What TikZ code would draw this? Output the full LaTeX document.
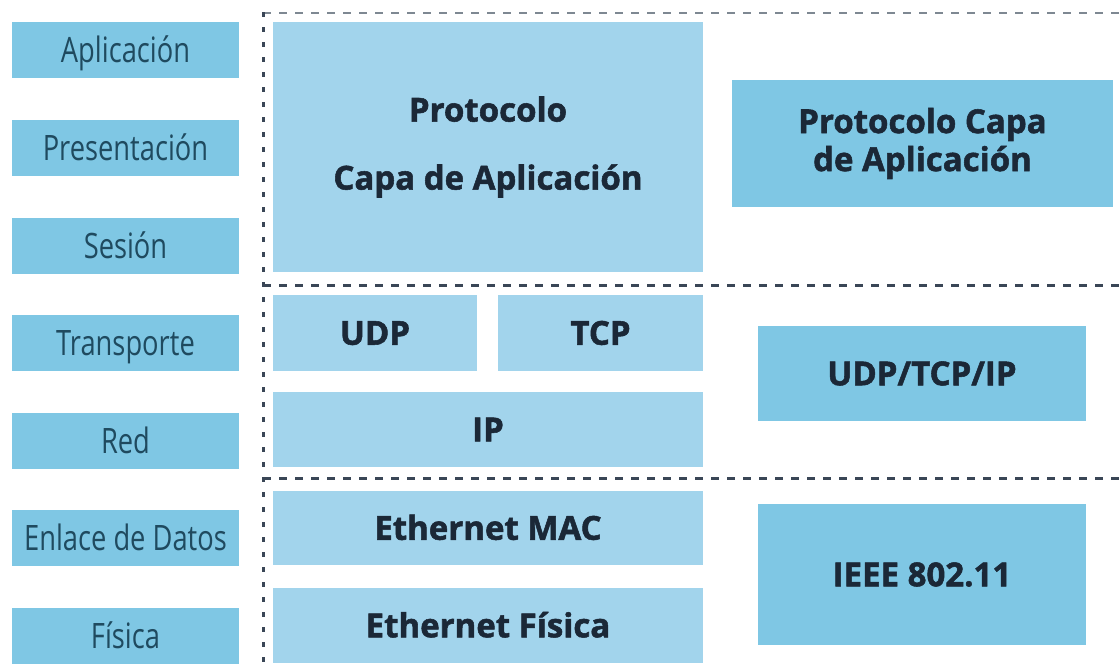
\documentclass[tikz,border=0pt]{standalone}
\usepackage{fontspec}
\setmainfont{Open Sans}[BoldFeatures={FakeBold=1.6}]
\newfontfamily\condfont[FakeStretch=0.78]{Open Sans}
\definecolor{layerblue}{HTML}{7FC7E4}
\definecolor{protoblue}{HTML}{A2D4EC}
\definecolor{labeltext}{HTML}{1F4A5F}
\definecolor{boldtext}{HTML}{1B2837}
\definecolor{dashgray}{HTML}{3A4656}
\definecolor{dashlight}{HTML}{7E8892}
\begin{document}
\begin{tikzpicture}[x=1pt,y=-1pt,
  osi/.style={fill=layerblue, minimum width=227pt, minimum height=56pt, inner sep=0pt,
    text=labeltext, font=\condfont\fontsize{35}{40}\selectfont, text height=25pt, text depth=0pt},
  proto/.style={fill=protoblue, inner sep=0pt, text=boldtext,
    font=\bfseries\fontsize{33}{38}\selectfont, align=center},
  oneline/.style={text height=23.5pt, text depth=0pt},
  sidebox/.style={fill=layerblue, inner sep=0pt, text=boldtext,
    font=\bfseries\fontsize{33}{38}\selectfont, align=center},
  sepline/.style={draw=dashgray, line width=3pt, dash pattern=on 8pt off 8pt},
  topline/.style={draw=dashlight, line width=2.5pt, dash pattern=on 8pt off 8pt},
  vline/.style={draw=dashgray, line width=3pt, dash pattern=on 5pt off 10pt}
]
\useasboundingbox (0,0) rectangle (1120,667);

% OSI layers
\node[osi] (aplic) at (125.5,50) {Aplicación};
\node[osi] (pres)  at (125.5,148) {Presentación};
\node[osi] (ses)   at (125.5,246) {Sesión};
\node[osi] (trans) at (125.5,343) {Transporte};
\node[osi] (red)   at (125.5,441) {Red};
\node[osi] (enl)   at (125.5,538) {Enlace de Datos};
\node[osi] (fis)   at (125.5,636) {Física};

% separators
\coordinate (vtop) at (263,12);
\coordinate (vbot) at (263,667);
\coordinate (t1) at (263,13);  \coordinate (t2) at (1120,13);
\coordinate (m1) at (263,285); \coordinate (m2) at (1120,285);
\coordinate (b1) at (263,478); \coordinate (b2) at (1120,478);
\draw[topline] (t1) -- (t2);
\draw[sepline] (m1) -- (m2);
\draw[sepline] (b1) -- (b2);
\draw[vline] (vtop) -- (vbot);

% protocol stack
\node[proto, minimum width=430pt, minimum height=250pt] (app) at (488,147)
  {Protocolo\\[30pt]Capa de Aplicación};
\node[proto, oneline, minimum width=204pt, minimum height=76pt] (udp) at (375,333) {UDP};
\node[proto, oneline, minimum width=205pt, minimum height=76pt] (tcp) at (600.5,333) {TCP};
\node[proto, oneline, minimum width=430pt, minimum height=75pt] (ip) at (488,429.5) {IP};
\node[proto, oneline, minimum width=430pt, minimum height=74pt] (mac) at (488,528) {Ethernet MAC};
\node[proto, oneline, minimum width=430pt, minimum height=75pt] (efis) at (488,625.5) {Ethernet Física};

% right column
\node[sidebox, minimum width=381pt, minimum height=127pt] (rapp) at (922.5,143.5)
  {Protocolo Capa\\de Aplicación};
\node[sidebox, oneline, minimum width=328pt, minimum height=95pt] (rudp) at (922,373.5) {UDP/TCP/IP};
\node[sidebox, oneline, minimum width=328pt, minimum height=141pt] (rieee) at (922,574.5) {IEEE 802.11};
\end{tikzpicture}
\end{document}
